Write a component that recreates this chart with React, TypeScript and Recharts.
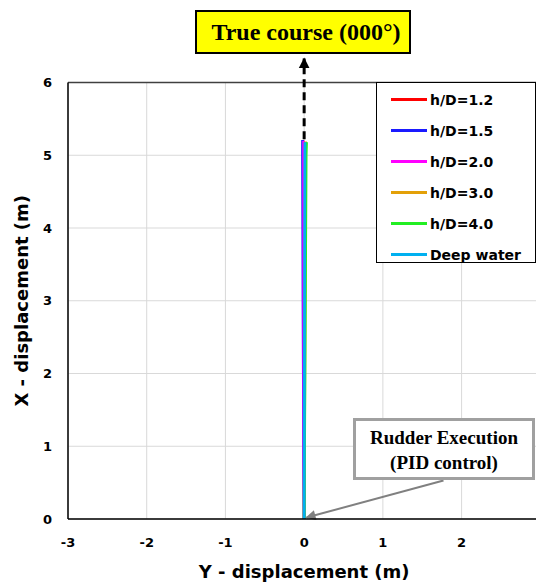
import React from "react";
import {
  LineChart,
  Line,
  XAxis,
  YAxis,
  CartesianGrid,
  ReferenceLine,
  Legend,
} from "recharts";

// ---- data ----
const seriesNames = ["h/D=1.2", "h/D=1.5", "h/D=2.0", "h/D=3.0", "h/D=4.0", "Deep water"];

// X-displacement (advance, m) for each series
const advHD12 = [0, 1, 2, 3, 4, 5, 5.2];
const advHD15 = [0, 1, 2, 3, 4, 5, 5.21];
const advHD20 = [0, 1, 2, 3, 4, 5, 5.2];
const advHD30 = [0, 1, 2, 3, 4, 5, 5.19];
const advHD40 = [0, 1, 2, 3, 4, 5, 5.18];
const advDeep = [0, 1, 2, 3, 4, 5, 5.18];

// Y-displacement (lateral, m) for each series
const latHD12 = [0, -0.004, -0.006, -0.008, -0.01, -0.01, -0.01];
const latHD15 = [0, -0.006, -0.01, -0.014, -0.017, -0.02, -0.02];
const latHD20 = [0, -0.004, -0.005, -0.006, -0.006, -0.007, -0.007];
const latHD30 = [0, 0.004, 0.008, 0.012, 0.015, 0.018, 0.018];
const latHD40 = [0, 0.005, 0.01, 0.015, 0.02, 0.025, 0.03];
const latDeep = [0, 0.001, 0.003, 0.005, 0.007, 0.009, 0.01];

const xTicks = [-3, -2, -1, 0, 1, 2];
const yTicks = [0, 1, 2, 3, 4, 5, 6];

const titleText = "True course (000°)";
const rudderText1 = "Rudder Execution";
const rudderText2 = "(PID control)";
const xLabel = "Y - displacement (m)";
const yLabel = "X - displacement (m)";

// annotation anchor points (data coordinates)
const courseArrowFrom = { lat: 0, adv: 5.22 };
const courseArrowTo = { lat: 0, adv: 6.33 };
const rudderArrowFrom = { lat: 1.77, adv: 0.53 };
const rudderArrowTo = { lat: 0.03, adv: 0.02 };

// ---- styles ----
const colors = ["#ff0000", "#1a1aff", "#ff00ff", "#e3a008", "#22ee22", "#00b0f0"];

const build = (lat: number[], adv: number[]) =>
  lat.map((v, i) => ({ lat: v, adv: adv[i] }));

const seriesData = [
  build(latHD12, advHD12),
  build(latHD15, advHD15),
  build(latHD20, advHD20),
  build(latHD30, advHD30),
  build(latHD40, advHD40),
  build(latDeep, advDeep),
];

const sansFont = "'DejaVu Sans', sans-serif";
const serifFont = "'Liberation Serif', 'Times New Roman', serif";

const tickStyle = {
  fontFamily: sansFont,
  fontWeight: 700,
  fontSize: 13,
  fill: "#000",
};

const XTick = (props: any) => (
  <text x={props.x} y={props.y} dy="0.71em" textAnchor="middle" style={tickStyle}>
    {props.payload.value}
  </text>
);

const YTick = (props: any) => (
  <text x={props.x} y={props.y} dy="0.355em" textAnchor="end" style={tickStyle}>
    {props.payload.value}
  </text>
);

const LegendBox = () => (
  <div
    style={{
      boxSizing: "border-box",
      width: 160,
      height: 181,
      border: "1px solid #000",
      background: "#fff",
      paddingTop: 1,
    }}
  >
    {seriesNames.map((name, i) => (
      <div
        key={name}
        style={{
          height: 31,
          display: "flex",
          alignItems: "center",
          fontFamily: sansFont,
          fontWeight: 700,
          fontSize: 14,
          color: "#000",
        }}
      >
        <div
          style={{
            marginLeft: 14,
            width: 36,
            height: 3,
            background: colors[i],
            marginRight: 3,
          }}
        />
        <span>{name}</span>
      </div>
    ))}
  </div>
);

export default function App() {
  return (
    <div
      style={{
        position: "absolute",
        left: 0,
        top: 0,
        width: 536,
        height: 585,
        overflow: "hidden",
        background: "#fff",
      }}
    >
      <svg width={0} height={0} style={{ position: "absolute" }}>
        <defs>
          <marker
            id="arrowBlack"
            viewBox="0 0 10 10"
            refX={9}
            refY={5}
            markerWidth={11}
            markerHeight={12}
            markerUnits="userSpaceOnUse"
            orient="auto"
          >
            <path d="M0,0 L10,5 L0,10 z" fill="#000" />
          </marker>
          <marker
            id="arrowGray"
            viewBox="0 0 10 10"
            refX={9}
            refY={5}
            markerWidth={11}
            markerHeight={10}
            markerUnits="userSpaceOnUse"
            orient="auto"
          >
            <path d="M0,0 L10,5 L0,10 z" fill="#808080" />
          </marker>
        </defs>
      </svg>
      <div
        style={{
          position: "absolute",
          left: 8,
          top: 8,
          width: 560,
          height: 577,
        }}
      >
        <LineChart
          width={560}
          height={577}
          margin={{ top: 74.5, right: 27.7, bottom: 0, left: 0 }}
        >
          <CartesianGrid stroke="#d9d9d9" strokeWidth={1} />
          <XAxis
            type="number"
            dataKey="lat"
            domain={[-3, 3]}
            ticks={xTicks}
            allowDataOverflow
            height={66}
            tickLine={false}
            tickSize={0}
            tickMargin={19}
            axisLine={{ stroke: "#000", strokeWidth: 1.5 }}
            tick={XTick}
            label={{
              value: xLabel,
              position: "insideBottom",
              offset: 7,
              style: {
                fill: "#000",
                fontFamily: sansFont,
                fontWeight: 700,
                fontSize: 18,
              },
            }}
          />
          <YAxis
            type="number"
            dataKey="adv"
            domain={[0, 6]}
            ticks={yTicks}
            allowDataOverflow
            width={60}
            tickLine={false}
            tickSize={0}
            tickMargin={16}
            axisLine={{ stroke: "#000", strokeWidth: 1.5 }}
            tick={YTick}
            label={{
              value: yLabel,
              angle: -90,
              position: "insideLeft",
              offset: 14,
              style: {
                textAnchor: "middle",
                fill: "#000",
                fontFamily: sansFont,
                fontWeight: 700,
                fontSize: 18,
              },
            }}
          />
          <ReferenceLine y={6} stroke="#404040" strokeWidth={1.5} ifOverflow="visible" />
          <ReferenceLine x={3} stroke="#404040" strokeWidth={1.5} ifOverflow="visible" />
          {seriesData.map((d, i) => (
            <Line
              key={seriesNames[i]}
              name={seriesNames[i]}
              data={d}
              dataKey="adv"
              type="linear"
              stroke={colors[i]}
              strokeWidth={2.8}
              dot={false}
              activeDot={false}
              isAnimationActive={false}
            />
          ))}
          <ReferenceLine
            segment={[
              { x: courseArrowFrom.lat, y: courseArrowFrom.adv },
              { x: courseArrowTo.lat, y: courseArrowTo.adv },
            ]}
            stroke="#000"
            strokeWidth={3}
            strokeDasharray="8 5"
            markerEnd="url(#arrowBlack)"
            ifOverflow="visible"
          />
          <ReferenceLine
            segment={[
              { x: rudderArrowFrom.lat, y: rudderArrowFrom.adv },
              { x: rudderArrowTo.lat, y: rudderArrowTo.adv },
            ]}
            stroke="#808080"
            strokeWidth={2}
            markerEnd="url(#arrowGray)"
            ifOverflow="visible"
          />
          <Legend
            layout="vertical"
            align="center"
            verticalAlign="middle"
            content={() => <LegendBox />}
            wrapperStyle={{ left: 368, top: 74, width: 160, height: 181 }}
          />
        </LineChart>

        {/* Title annotation */}
        <div
          style={{
            position: "absolute",
            left: 187,
            top: 2,
            width: 216,
            height: 44,
            boxSizing: "border-box",
            border: "2px solid #000",
            background: "#ffff00",
            display: "flex",
            alignItems: "center",
            justifyContent: "center",
            paddingLeft: 6,
            fontFamily: serifFont,
            fontWeight: 700,
            fontSize: 24,
            color: "#000",
            whiteSpace: "nowrap",
          }}
        >
          {titleText}
        </div>

        {/* Rudder annotation */}
        <div
          style={{
            position: "absolute",
            left: 345,
            top: 410,
            width: 182,
            height: 62,
            boxSizing: "border-box",
            border: "3.5px solid #a0a0a0",
            background: "#fff",
            paddingTop: 4,
            textAlign: "center",
            fontFamily: serifFont,
            fontWeight: 700,
            fontSize: 19,
            lineHeight: "25px",
            color: "#000",
            whiteSpace: "nowrap",
          }}
        >
          <div>{rudderText1}</div>
          <div>{rudderText2}</div>
        </div>
      </div>
    </div>
  );
}
